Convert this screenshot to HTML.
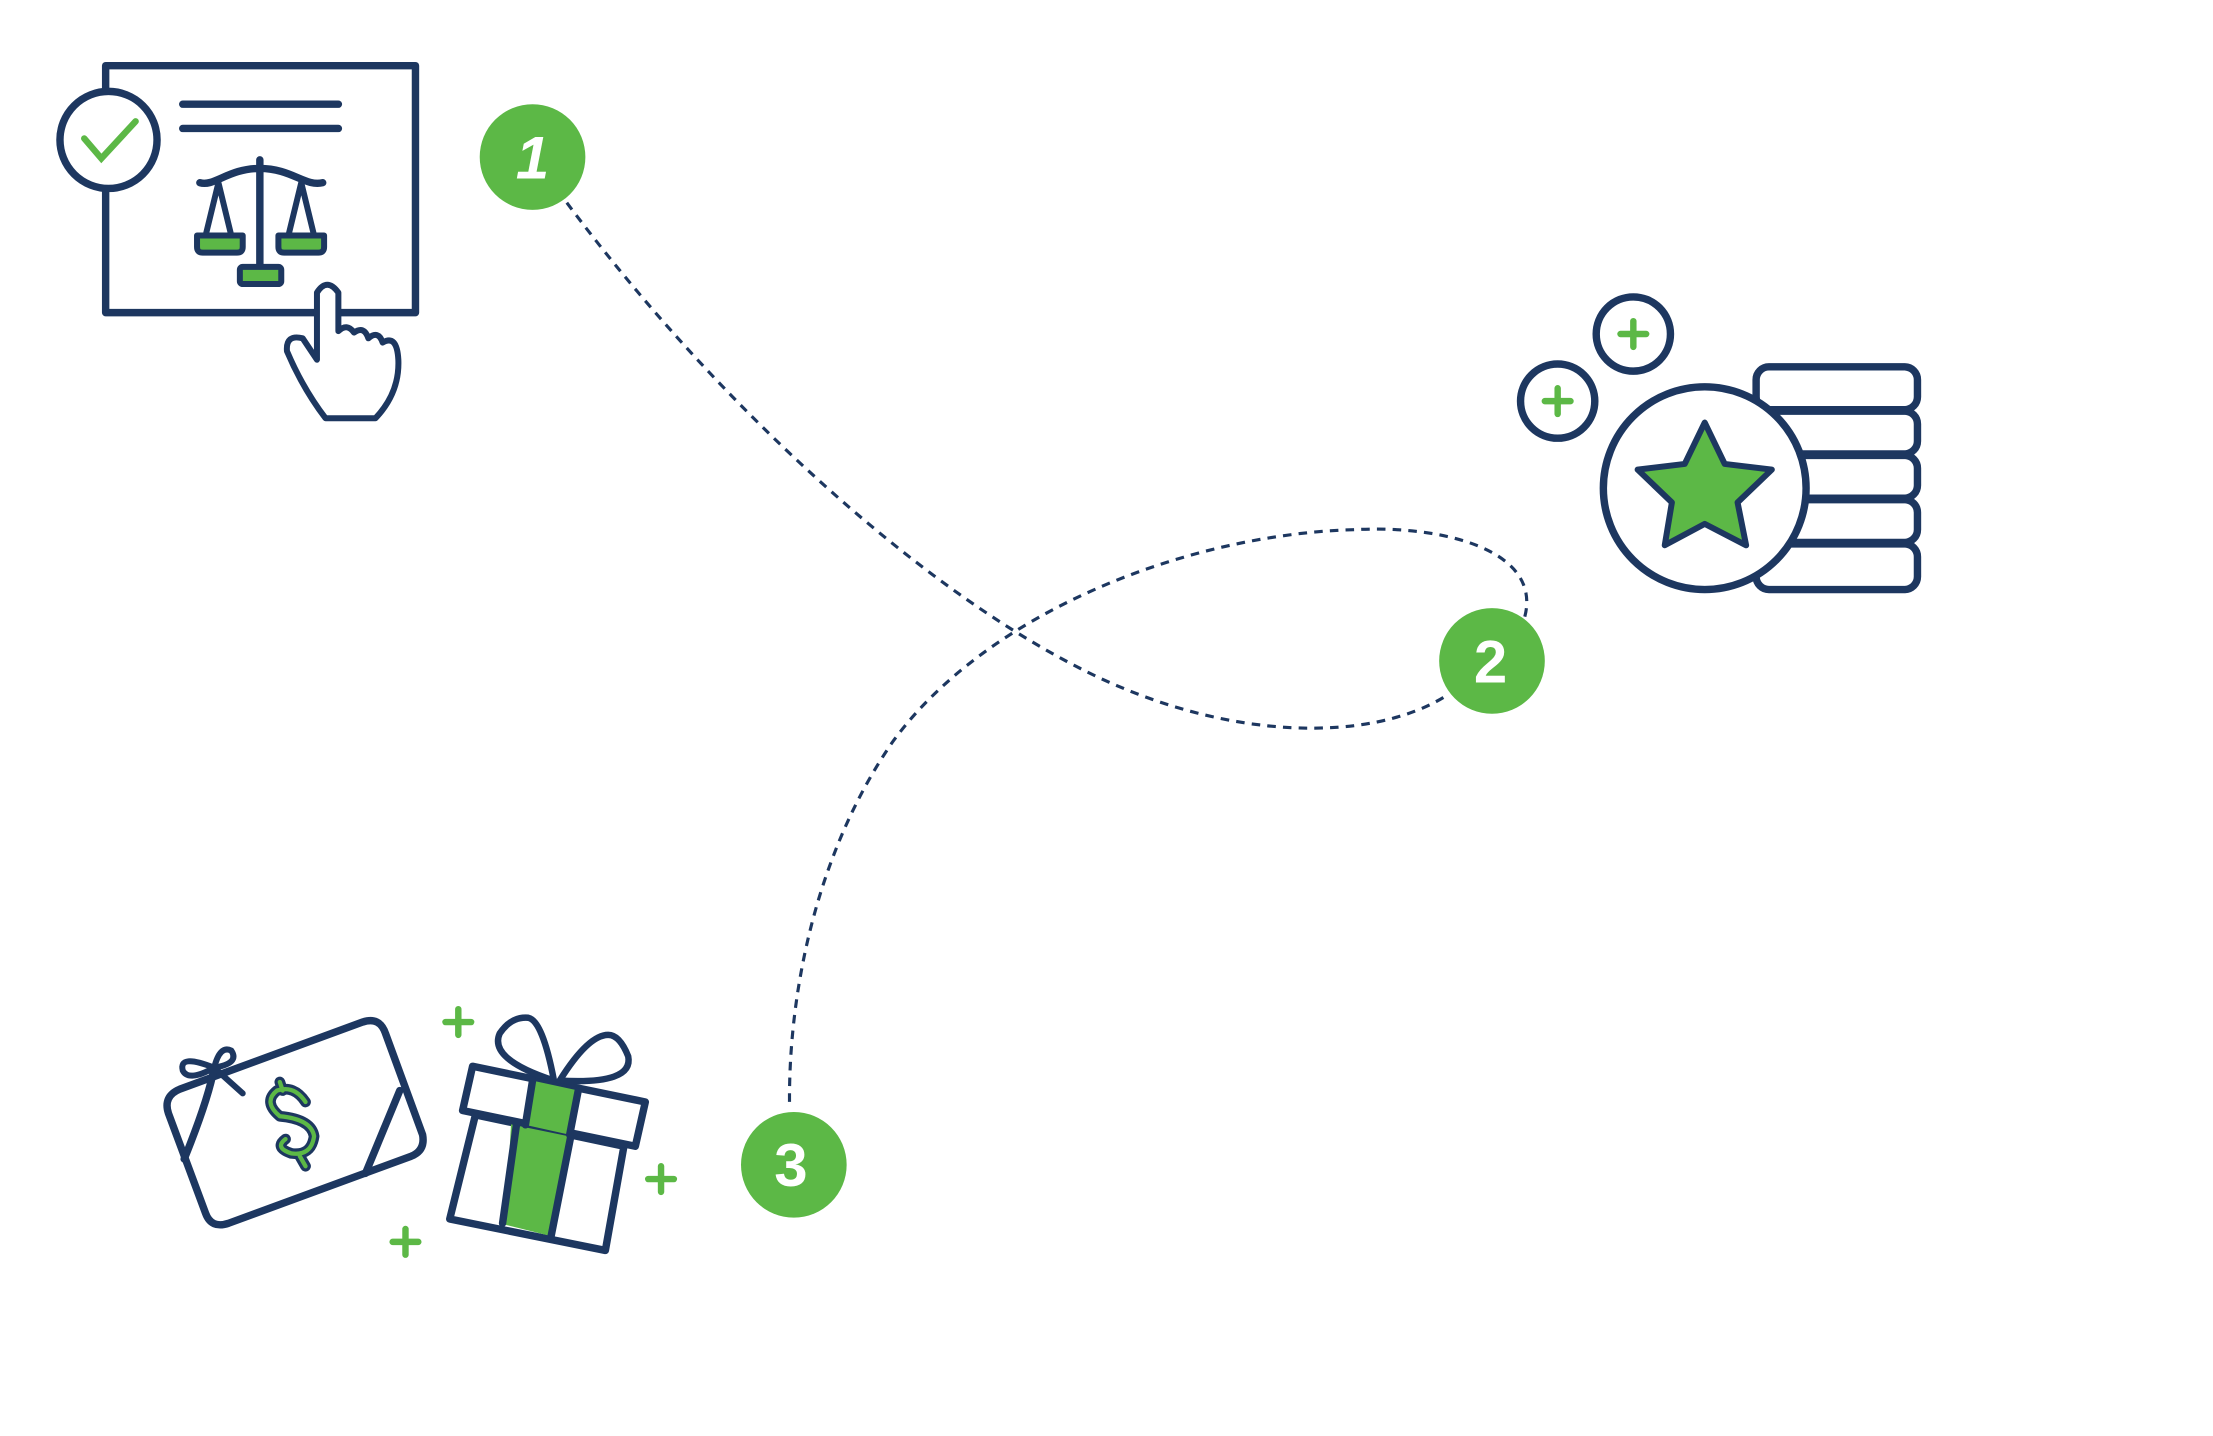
<!DOCTYPE html>
<html><head><meta charset="utf-8"><style>
html,body{margin:0;padding:0;background:#fff;}
svg{display:block;}
</style></head><body>
<svg width="2213" height="1436" viewBox="0 0 1550 1006" preserveAspectRatio="none" xmlns="http://www.w3.org/2000/svg">
<g fill="none" stroke="#1d3760" stroke-width="2.2" stroke-dasharray="6,5">
<path d="M397,142 C500,280 640,410 760,470 C860,520 960,520 1012,488"/>
<path d="M1068,432 C1080,385 1010,368 950,371 C830,374 690,430 625,520 C570,600 552,700 553,775"/>
</g>
<g stroke="#1d3760" stroke-width="5.2" stroke-linecap="round" stroke-linejoin="round" fill="#fff">
<rect x="74" y="46" width="217" height="173"/>
<circle cx="76" cy="98" r="34"/>
<line x1="128" y1="73" x2="237" y2="73"/>
<line x1="128" y1="90" x2="237" y2="90"/>
<line x1="182" y1="112" x2="182" y2="187"/>
<path d="M140,128 C150,131 160,118 182,118 C204,118 214,131 226,128" fill="none"/>
<path d="M153,128 L144,165 M153,128 L162,165 M211,128 L202,165 M211,128 L220,165" fill="none" stroke-width="4.2"/>
<path d="M138,165 H170 V173 Q170,177 166,177 H142 Q138,177 138,173 Z" fill="#5cb846" stroke-width="4.2"/>
<path d="M195,165 H227 V173 Q227,177 223,177 H199 Q195,177 195,173 Z" fill="#5cb846" stroke-width="4.2"/>
<rect x="168" y="187" width="29" height="12" rx="2" fill="#5cb846" stroke-width="4.2"/>
<path d="M222,252 L222,205 Q229,194 237,205 L237,232 Q243,226 248,233 Q255,228 258,237 Q265,231 268,240 Q278,234 279,252 Q280,275 263,293 L228,293 Q212,272 201,246 Q200,234 212,237 Z" stroke-width="4.2"/>
<rect x="1230" y="257" width="113" height="30" rx="9"/>
<rect x="1230" y="288" width="113" height="30" rx="9"/>
<rect x="1230" y="319" width="113" height="30" rx="9"/>
<rect x="1230" y="350" width="113" height="30" rx="9"/>
<rect x="1230" y="381" width="113" height="32" rx="9"/>
<circle cx="1194" cy="342" r="71"/>
<circle cx="1144" cy="234" r="26"/>
<circle cx="1091" cy="281" r="26"/>
<polygon points="1194,296 1208,325 1241,329 1217,352 1223,382 1194,367 1166,382 1171,352 1147,329 1180,325" fill="#5cb846" stroke-width="4.2"/>
<path d="M126,763 L254,716 Q266,712 270,724 L296,795 Q298,806 288,810 L160,857 Q148,861 144,850 L118,780 Q114,768 126,763 Z"/>
<path d="M150,748 Q146,770 129,812 M280,764 L256,822" fill="none"/>
<path d="M150,748 Q125,738 128,750 Q132,758 150,748 Q154,732 162,736 Q168,745 150,748 L170,766" fill="none" stroke-width="4.2"/>
<path d="M214,772 Q206,760 194,764 Q184,772 196,782 Q218,784 220,796 Q218,810 204,808 Q192,804 200,798 M196,758 L198,764 M210,810 L214,817" fill="none" stroke="#1d3760" stroke-width="7.5"/>
<path d="M214,772 Q206,760 194,764 Q184,772 196,782 Q218,784 220,796 Q218,810 204,808 Q192,804 200,798 M196,758 L198,764 M210,810 L214,817" fill="none" stroke="#5cb846" stroke-width="3"/>
<polygon points="333,781 437,803 424,876 315,854"/>
<polygon points="358,786 400,795 386,866 354,858" fill="#5cb846" stroke="none"/>
<path d="M362,786 L352,857 M400,795 L386,866" fill="none"/>
<polygon points="331,747 452,772 445,803 324,778"/>
<polygon points="373,757 405,764 399,795 368,788" fill="#5cb846" stroke="none"/>
<path d="M373,757 L368,788 M405,764 L399,795" fill="none"/>
<path d="M388,757 Q380,715 370,713 Q358,712 350,724 Q342,742 388,757 Z" stroke-width="4.5"/>
<path d="M392,757 Q412,725 426,725 Q434,725 440,740 Q444,760 392,757 Z" stroke-width="4.5"/>
</g>
<g stroke="#5cb846" stroke-width="4.5" stroke-linecap="round">
<path d="M59,97 L71,111 L95,85" fill="none"/>
<path d="M1144,225 V243 M1135,234 H1153"/>
<path d="M1091,272 V290 M1082,281 H1100"/>
<path d="M321,707 V725 M312,716 H330"/>
<path d="M463,817 V835 M454,826 H472"/>
<path d="M284,861 V879 M275,870 H293"/>
</g>
<g fill="#5cb846">
<circle cx="373" cy="110" r="37"/>
<circle cx="1045" cy="463" r="37"/>
<circle cx="556" cy="816" r="37"/>
</g>
<g fill="#fff" font-family="Liberation Sans, sans-serif" font-weight="bold" font-size="42" text-anchor="middle">
<text x="373" y="125" font-style="italic">1</text>
<text x="1044" y="478">2</text>
<text x="554" y="831">3</text>
</g>
</svg>
</body></html>
